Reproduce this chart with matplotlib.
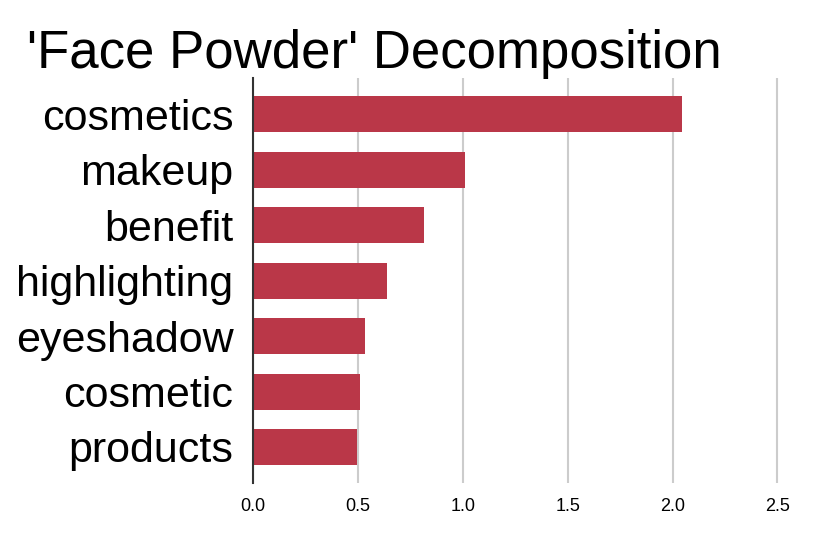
import matplotlib
matplotlib.use('Agg')
import matplotlib.pyplot as plt

# data
terms = ['cosmetics', 'makeup', 'benefit', 'highlighting', 'eyeshadow', 'cosmetic', 'products']
scores = [2.045, 1.01, 0.817, 0.637, 0.535, 0.511, 0.496]
xticks = [0.0, 0.5, 1.0, 1.5, 2.0, 2.5]

plt.rcParams['font.family'] = ['Liberation Sans', 'DejaVu Sans']

fig = plt.figure(figsize=(8.3, 5.36), dpi=100)
ax = fig.add_axes([0.3048, 0.0989, 0.962 - 0.3048, 0.8537 - 0.0989])

ypos = list(range(len(terms)))
ax.barh(ypos, scores, height=0.65, color='#BA3748', zorder=3)

ax.set_ylim(len(terms) - 0.35, -0.65)
ax.set_xlim(0, 2.6)
ax.set_yticks(ypos)
ax.set_yticklabels(terms, fontsize=31)
ax.set_xticks(xticks)
ax.set_xticklabels(['%.1f' % t for t in xticks], fontsize=13)
ax.tick_params(axis='y', length=0, pad=14)
ax.tick_params(axis='x', length=0, pad=11)

ax.grid(axis='x', color='#CCCCCC', linewidth=1.5, zorder=0)
for s in ['top', 'right', 'bottom']:
    ax.spines[s].set_visible(False)
ax.spines['left'].set_color('#333333')
ax.spines['left'].set_linewidth(1.5)
ax.spines['left'].set_zorder(4)

fig.text(27 / 830, 1 - 68 / 536, "'Face Powder' Decomposition", fontsize=38,
         ha='left', va='baseline')

fig.savefig('out.png', dpi=100)
